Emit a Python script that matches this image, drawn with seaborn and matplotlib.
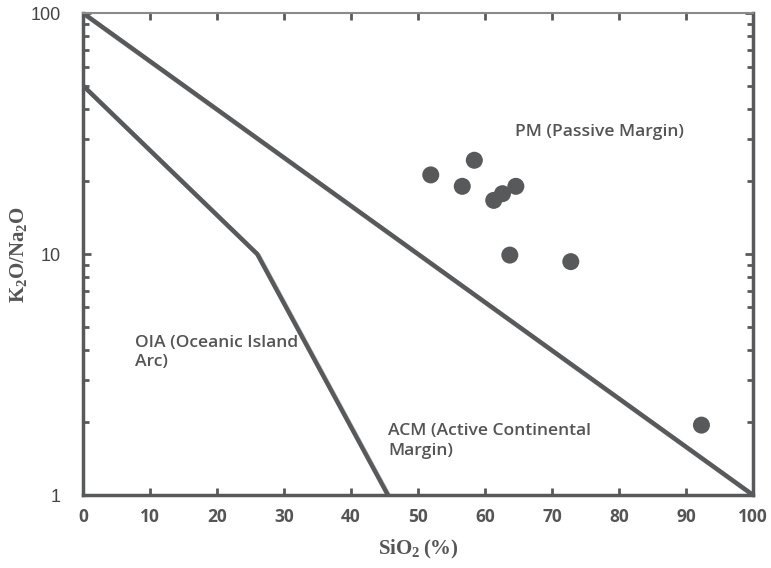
import matplotlib
matplotlib.use("Agg")
import matplotlib.pyplot as plt
import matplotlib.patheffects as pe
import seaborn as sns

# boundary lines (SiO2 %, K2O/Na2O)
pm_line_x = [0, 100]
pm_line_y = [100, 1]
oia_line_x = [0, 26, 45.5]
oia_line_y = [50, 10, 1]

# samples
sio2 = [51.9, 58.4, 56.6, 62.6, 61.3, 64.6, 63.7, 72.8, 92.3]
k2o_na2o = [21.3, 24.5, 19.1, 17.8, 16.7, 19.1, 9.9, 9.3, 1.95]

x_ticks = [0, 10, 20, 30, 40, 50, 60, 70, 80, 90, 100]
y_ticks = [1, 10, 100]

grey = "#58595b"

sns.set_style("white")
plt.rcParams["mathtext.fontset"] = "custom"
plt.rcParams["mathtext.rm"] = "Liberation Serif"
plt.rcParams["mathtext.bf"] = "Liberation Serif:bold"

fig = plt.figure(figsize=(7.71, 5.68), dpi=100)
ax = fig.add_axes([0.1077, 0.1285, 0.869, 0.8485])

shadow = [pe.SimpleLineShadow(offset=(1.2, -1.2), alpha=0.2, shadow_color="black"), pe.Normal()]
sns.lineplot(x=pm_line_x, y=pm_line_y, ax=ax, color=grey, lw=3.2, sort=False,
             path_effects=shadow)
sns.lineplot(x=oia_line_x, y=oia_line_y, ax=ax, color=grey, lw=3.2, sort=False,
             path_effects=shadow)
sns.scatterplot(x=sio2, y=k2o_na2o, ax=ax, color=grey, s=150, edgecolor="none", zorder=5)

ax.set_yscale("log")
ax.set_xlim(0, 100)
ax.set_ylim(1, 100)
ax.set_xticks(x_ticks)
ax.set_xticklabels([str(t) for t in x_ticks], fontfamily="Open Sans", fontweight="bold",
                   fontsize=12.5, color="#555555")
ax.set_yticks(y_ticks)
ax.set_yticklabels([str(t) for t in y_ticks], fontfamily="Liberation Sans",
                   fontsize=13, color="#444444")
ax.tick_params(axis="both", which="both", direction="in", color=grey, width=2,
               right=True, left=True, bottom=True, top=True)
ax.tick_params(axis="y", which="major", length=6, pad=16)
ax.tick_params(axis="y", which="minor", length=4)
ax.tick_params(axis="x", which="major", length=5, pad=9)

for s in ax.spines.values():
    s.set_color(grey)
    s.set_linewidth(2.5)
ax.spines["top"].set_linewidth(1.5)
ax.spines["top"].set_color("#8a8a8a")

ax.set_xlabel(r"$\mathbf{SiO_2\,(\%)}$", fontsize=15, color="#555555", labelpad=9)
ax.set_ylabel(r"$\mathbf{K_2O/Na_2O}$", fontsize=15, color="#555555")
ax.yaxis.set_label_coords(-0.08, 0.5)

txt = dict(fontfamily="Open Sans", fontsize=12.6, color="#555555", fontweight="semibold",
           va="center", linespacing=1.3)
ax.text(64.5, 32, "PM (Passive Margin)", **txt)
ax.text(7.8, 3.9, "OIA (Oceanic Island\nArc)", **txt)
ax.text(45.5, 1.68, "ACM (Active Continental\nMargin)", **txt)

fig.savefig("out.png", dpi=100)
